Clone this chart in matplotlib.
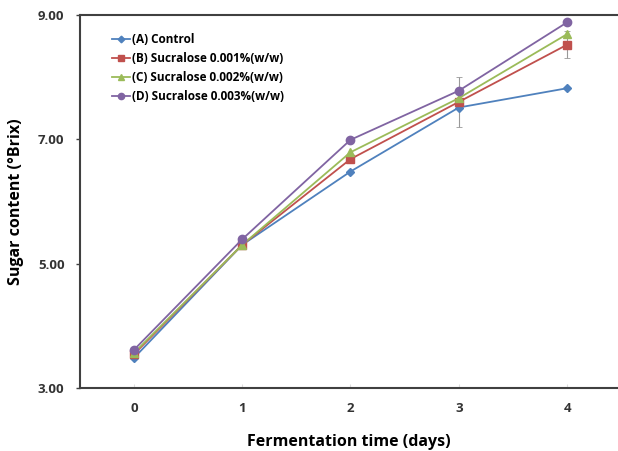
import numpy as np
import matplotlib
matplotlib.use('Agg')
import matplotlib.pyplot as plt

days = [0, 1, 2, 3, 4]
day_labels = ['0', '1', '2', '3', '4']
ctrl = [3.48, 5.30, 6.48, 7.51, 7.82]
suc001 = [3.54, 5.30, 6.68, 7.60, 8.52]
suc002 = [3.56, 5.30, 6.79, 7.66, 8.69]
suc003 = [3.61, 5.39, 6.99, 7.78, 8.88]
suc001_err = [0.0, 0.0, 0.0, 0.40, 0.22]

names = ['(A) Control', '(B) Sucralose 0.001%(w/w)',
         '(C) Sucralose 0.002%(w/w)', '(D) Sucralose 0.003%(w/w)']

plt.rcParams['font.family'] = ['Open Sans', 'DejaVu Sans']

fig = plt.figure(figsize=(6.18, 4.51), dpi=100)
ax = fig.add_axes([0.129, 0.140, 0.871, 0.827])

ax.errorbar(days, suc001, yerr=suc001_err, fmt='none', ecolor='#999999',
            elinewidth=0.8, capsize=2, capthick=0.6, zorder=1)
ax.plot(days, ctrl, color='#4F81BD', marker='D', markersize=4.5, lw=1.3, label=names[0])
ax.plot(days, suc001, color='#C0504D', marker='s', markersize=5.5, lw=1.3, label=names[1])
ax.plot(days, suc002, color='#9BBB59', marker='^', markersize=6, lw=1.3, label=names[2])
ax.plot(days, suc003, color='#8064A2', marker='o', markersize=6, lw=1.3, label=names[3])

ax.set_xlim(-0.5, 4.47)
ax.set_ylim(3, 9)
ax.set_yticks([3, 5, 7, 9])
ax.set_yticklabels(['%.2f' % v for v in [3, 5, 7, 9]])
ax.set_xticks(days)
ax.set_xticklabels(day_labels)

for s in ['left', 'bottom', 'top']:
    ax.spines[s].set_color('#404040')
    ax.spines[s].set_linewidth(1.5)
ax.spines['right'].set_visible(False)
ax.tick_params(axis='y', length=3, width=1, color='#404040', pad=8)
ax.tick_params(axis='x', length=3, direction='in', color='#dddddd', pad=10)
for t in ax.get_xticklabels() + ax.get_yticklabels():
    t.set_fontweight('bold')
    t.set_fontsize(9.5)
    t.set_color('#333333')

ax.set_ylabel('Sugar content (°Brix)', fontsize=11.5, fontweight='bold', labelpad=10)
ax.set_xlabel('Fermentation time (days)', fontsize=11.5, fontweight='bold', labelpad=14)

leg = ax.legend(loc='upper left', bbox_to_anchor=(0.04, 0.98), frameon=False,
                prop={'weight': 'bold', 'size': 8.5}, handlelength=1.5,
                handletextpad=0.2, labelspacing=0.5, markerscale=0.75)

fig.savefig('out.png', dpi=100)
